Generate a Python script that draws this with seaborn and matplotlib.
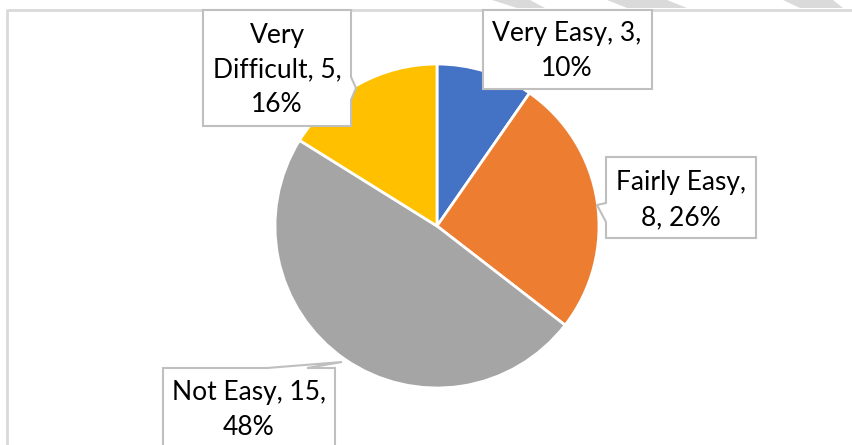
import matplotlib
matplotlib.use("Agg")
import matplotlib.pyplot as plt
import seaborn as sns
from matplotlib.patches import Polygon

# data
categories = ["Very Easy", "Fairly Easy", "Not Easy", "Very Difficult"]
counts = [3, 8, 15, 5]
colors = ["#4472C4", "#ED7D31", "#A5A5A5", "#FFC000"]

sns.set_theme(style="white")
plt.rcParams["font.family"] = ["Lato", "DejaVu Sans"]

W, H = 852, 445
fig = plt.figure(figsize=(W / 100, H / 100), dpi=100)
ax = fig.add_axes([0, 0, 1, 1])

total = sum(counts)
# y axis runs downward, so start at -90 and go "counterclock" to get clockwise from top
ax.pie(counts, colors=colors, startangle=-90, counterclock=True,
       center=(437, 226), radius=162,
       wedgeprops=dict(edgecolor="white", linewidth=2))
ax.set_xlim(0, W)
ax.set_ylim(H, 0)
ax.set_aspect("equal")
ax.axis("off")

# chart frame
ax.plot([7, 7, W], [H, 10, 10], color="#D9D9D9", lw=2, zorder=1)

# watermark stripes peeking in at top
for xs in [(492, 530, 545, 517), (607, 667, 687, 627), (783, 833, 843, 800)]:
    ax.add_patch(Polygon([(xs[0], 0), (xs[1], 0), (xs[2], 8), (xs[3], 8)],
                         closed=True, facecolor="#DADADA", edgecolor="none", zorder=1))

# callout boxes: outline (with pointer) and text centre
callouts = {
    "Very Easy": dict(outline=[(483, 10), (652, 10), (652, 89), (483, 89)],
                      xy=(567, 51), text="Very Easy, 3,\n10%"),
    "Fairly Easy": dict(outline=[(606, 157), (756, 157), (756, 238), (606, 238),
                                 (606, 222), (597, 205), (606, 203)],
                        xy=(681, 200), text="Fairly Easy,\n8, 26%"),
    "Not Easy": dict(outline=[(163, 368), (267, 368), (342, 362), (307, 368),
                              (335, 368), (335, 460), (163, 460)],
                     xy=(249, 410), text="Not Easy, 15,\n48%"),
    "Very Difficult": dict(outline=[(203, 10), (351, 10), (351, 77), (356, 88),
                                    (351, 100), (351, 126), (203, 126)],
                           xy=(277, 70), text="Very\nDifficult, 5,\n16%"),
}

for cat in categories:
    c = callouts[cat]
    ax.add_patch(Polygon(c["outline"], closed=True, facecolor="white",
                         edgecolor="#BFBFBF", linewidth=1.5, zorder=5))
    ax.text(c["xy"][0], c["xy"][1], c["text"], ha="center", va="center",
            fontsize=19, color="black", linespacing=1.5, zorder=6)

fig.savefig("out.png", dpi=100)
